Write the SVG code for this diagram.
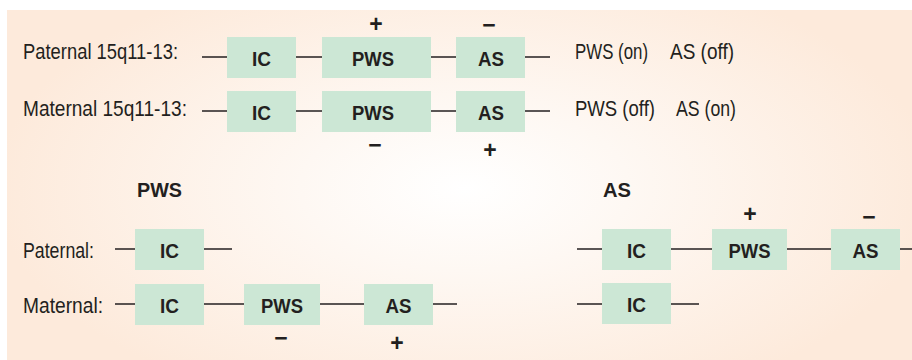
<svg xmlns="http://www.w3.org/2000/svg" width="912" height="360" viewBox="0 0 912 360">
  <defs>
    <radialGradient id="panelGlow" cx="465" cy="188" r="470" gradientUnits="userSpaceOnUse" gradientTransform="translate(465 188) scale(1 0.5) translate(-465 -188)">
      <stop offset="0" stop-color="#ffffff"/>
      <stop offset="0.35" stop-color="#fef8f3"/>
      <stop offset="1" stop-color="#fdeadb"/>
    </radialGradient>
    <style>
      .box { fill: #cce7d5; }
      .blabel { font-family: "Liberation Sans", Arial, sans-serif; font-weight: bold; font-size: 21px; fill: #231f20; text-anchor: middle; }
      .label { font-family: "Liberation Sans", Arial, sans-serif; font-size: 21.5px; fill: #231f20; }
      .head { font-family: "Liberation Sans", Arial, sans-serif; font-weight: bold; font-size: 21px; fill: #231f20; }
      .sign { font-family: "Liberation Sans", Arial, sans-serif; font-weight: bold; font-size: 23px; fill: #231f20; text-anchor: middle; }
      .conn line { stroke: #231f20; stroke-width: 1.5; }
    </style>
  </defs>

  <rect x="0" y="0" width="912" height="360" fill="#ffffff"/>
  <rect x="7" y="10" width="905" height="350" fill="url(#panelGlow)"/>

  <!-- row labels -->
  <text class="label" x="23" y="59" textLength="155" lengthAdjust="spacingAndGlyphs">Paternal 15q11-13:</text>
  <text class="label" x="23" y="116" textLength="164" lengthAdjust="spacingAndGlyphs">Maternal 15q11-13:</text>
  <text class="label" x="575" y="59" textLength="73" lengthAdjust="spacingAndGlyphs">PWS (on)</text>
  <text class="label" x="670" y="59" textLength="64" lengthAdjust="spacingAndGlyphs">AS (off)</text>
  <text class="label" x="575" y="116" textLength="80" lengthAdjust="spacingAndGlyphs">PWS (off)</text>
  <text class="label" x="676" y="116" textLength="60" lengthAdjust="spacingAndGlyphs">AS (on)</text>
  <text class="head" x="137" y="197" textLength="45" lengthAdjust="spacingAndGlyphs">PWS</text>
  <text class="head" x="603" y="197" textLength="28" lengthAdjust="spacingAndGlyphs">AS</text>
  <text class="label" x="23" y="258" textLength="71" lengthAdjust="spacingAndGlyphs">Paternal:</text>
  <text class="label" x="23" y="313" textLength="80" lengthAdjust="spacingAndGlyphs">Maternal:</text>

  <!-- connectors -->
  <g id="connectors" class="conn">
    <line x1="202" y1="57" x2="227" y2="57"/>
    <line x1="296" y1="57" x2="322" y2="57"/>
    <line x1="431" y1="57" x2="456" y2="57"/>
    <line x1="525" y1="57" x2="550" y2="57"/>
    <line x1="202" y1="111" x2="227" y2="111"/>
    <line x1="296" y1="111" x2="322" y2="111"/>
    <line x1="431" y1="111" x2="456" y2="111"/>
    <line x1="525" y1="111" x2="550" y2="111"/>
    <line x1="115" y1="249" x2="135" y2="249"/>
    <line x1="204" y1="249" x2="232" y2="249"/>
    <line x1="115" y1="304" x2="135" y2="304"/>
    <line x1="204" y1="304" x2="244" y2="304"/>
    <line x1="320" y1="304" x2="364" y2="304"/>
    <line x1="433" y1="304" x2="457" y2="304"/>
    <line x1="577" y1="249" x2="602" y2="249"/>
    <line x1="671" y1="249" x2="712" y2="249"/>
    <line x1="787" y1="249" x2="831" y2="249"/>
    <line x1="900" y1="249" x2="912" y2="249"/>
    <line x1="577" y1="304" x2="602" y2="304"/>
    <line x1="671" y1="304" x2="699" y2="304"/>
  </g>

  <!-- top: paternal 15q11-13 -->
  <g id="pat-ic"><rect class="box" x="227" y="37" width="69" height="41"/><text class="blabel" x="261.5" y="65.5" textLength="19" lengthAdjust="spacingAndGlyphs">IC</text></g>
  <g id="pat-pws"><rect class="box" x="322" y="37" width="109" height="41"/><text class="blabel" x="373" y="65.5" textLength="42" lengthAdjust="spacingAndGlyphs">PWS</text></g>
  <g id="pat-as"><rect class="box" x="456" y="37" width="69" height="41"/><text class="blabel" x="491" y="65.5" textLength="26" lengthAdjust="spacingAndGlyphs">AS</text></g>
  <text class="sign" x="376" y="32">+</text>
  <text class="sign" x="489" y="33">−</text>

  <!-- top: maternal 15q11-13 -->
  <g id="mat-ic"><rect class="box" x="227" y="91" width="69" height="41"/><text class="blabel" x="261.5" y="119.5" textLength="19" lengthAdjust="spacingAndGlyphs">IC</text></g>
  <g id="mat-pws"><rect class="box" x="322" y="91" width="109" height="41"/><text class="blabel" x="373" y="119.5" textLength="42" lengthAdjust="spacingAndGlyphs">PWS</text></g>
  <g id="mat-as"><rect class="box" x="456" y="91" width="69" height="41"/><text class="blabel" x="491" y="119.5" textLength="26" lengthAdjust="spacingAndGlyphs">AS</text></g>
  <text class="sign" x="375" y="153">−</text>
  <text class="sign" x="490" y="157.5">+</text>

  <!-- PWS case -->
  <g id="pws-pat-ic"><rect class="box" x="135" y="229" width="69" height="41"/><text class="blabel" x="169.5" y="257.5" textLength="19" lengthAdjust="spacingAndGlyphs">IC</text></g>
  <g id="pws-mat-ic"><rect class="box" x="135" y="284" width="69" height="41"/><text class="blabel" x="169.5" y="312.5" textLength="19" lengthAdjust="spacingAndGlyphs">IC</text></g>
  <g id="pws-mat-pws"><rect class="box" x="244" y="284" width="76" height="41"/><text class="blabel" x="282" y="312.5" textLength="42" lengthAdjust="spacingAndGlyphs">PWS</text></g>
  <g id="pws-mat-as"><rect class="box" x="364" y="284" width="69" height="41"/><text class="blabel" x="398.5" y="312.5" textLength="26" lengthAdjust="spacingAndGlyphs">AS</text></g>
  <text class="sign" x="281" y="345.5">−</text>
  <text class="sign" x="397" y="350.5">+</text>

  <!-- AS case -->
  <g id="as-pat-ic"><rect class="box" x="602" y="229" width="69" height="41"/><text class="blabel" x="636.5" y="257.5" textLength="19" lengthAdjust="spacingAndGlyphs">IC</text></g>
  <g id="as-pat-pws"><rect class="box" x="712" y="229" width="75" height="41"/><text class="blabel" x="749.5" y="257.5" textLength="42" lengthAdjust="spacingAndGlyphs">PWS</text></g>
  <g id="as-pat-as"><rect class="box" x="831" y="229" width="69" height="41"/><text class="blabel" x="865.5" y="257.5" textLength="26" lengthAdjust="spacingAndGlyphs">AS</text></g>
  <g id="as-mat-ic"><rect class="box" x="602" y="283" width="69" height="41"/><text class="blabel" x="636.5" y="311.5" textLength="19" lengthAdjust="spacingAndGlyphs">IC</text></g>
  <text class="sign" x="750" y="221.5">+</text>
  <text class="sign" x="869" y="224.5">−</text>
</svg>
